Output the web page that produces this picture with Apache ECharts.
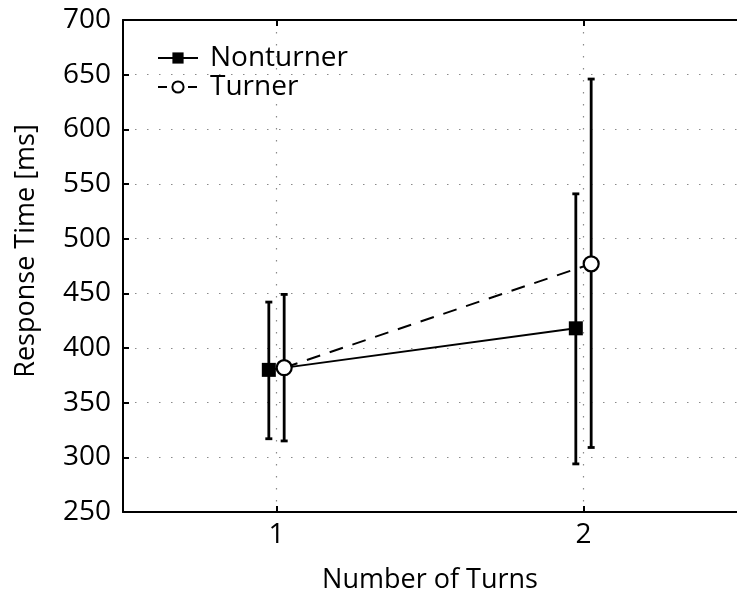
<!DOCTYPE html>
<html>
<head>
<meta charset="utf-8">
<script src="https://cdn.jsdelivr.net/npm/echarts@6/dist/echarts.min.js"></script>
<style>html,body{margin:0;padding:0;background:#fff}#c{width:737px;height:599px}</style>
</head>
<body>
<div id="c"></div>
<script>
var xTicks = [1, 2];
var seriesNames = ['Nonturner', 'Turner'];
var nonturnerX = [0.975, 1.975];
var nonturnerMean = [380, 418];
var nonturnerLow = [317, 294];
var nonturnerHigh = [442, 541];
var turnerX = [1.025, 2.025];
var turnerMean = [382, 477];
var turnerLow = [315, 309];
var turnerHigh = [449, 646];

var FONT = 'Open Sans';

function pts(xs, ys) { return xs.map(function (x, i) { return [x, ys[i]]; }); }
function errs(xs, lo, hi) { return xs.map(function (x, i) { return [x, lo[i], hi[i]]; }); }

function errRender(params, api) {
  var x = api.value(0);
  var p1 = api.coord([x, api.value(1)]);
  var p2 = api.coord([x, api.value(2)]);
  var cw = 3.5;
  var st = { stroke: '#000', lineWidth: 2.8 };
  return {
    type: 'group',
    children: [
      { type: 'line', shape: { x1: p1[0], y1: p1[1], x2: p2[0], y2: p2[1] }, style: st },
      { type: 'line', shape: { x1: p1[0] - cw, y1: p1[1], x2: p1[0] + cw, y2: p1[1] }, style: st },
      { type: 'line', shape: { x1: p2[0] - cw, y1: p2[1], x2: p2[0] + cw, y2: p2[1] }, style: st }
    ]
  };
}

var chart = echarts.init(document.getElementById('c'), null, { renderer: 'canvas' });
var dotted = { color: '#8a8a8a', width: 1.2, type: [1.5, 10.5] };
chart.setOption({
  animation: false,
  backgroundColor: '#fff',
  textStyle: { fontFamily: FONT, color: '#000' },
  grid: { left: 123, right: -9, top: 20, bottom: 84 },
  legend: {
    orient: 'vertical', left: 152, top: 39, itemGap: 1,
    itemWidth: 40, itemHeight: 14,
    textStyle: { fontFamily: FONT, fontSize: 28, color: '#000', padding: [0, 0, 0, 7] },
    data: [
      { name: seriesNames[0] },
      { name: seriesNames[1], lineStyle: { type: [9, 6] } }
    ]
  },
  xAxis: [{
    type: 'value', min: 0.5, max: 2.5, position: 'bottom',
    name: 'Number of Turns', nameLocation: 'middle', nameGap: 55,
    nameTextStyle: { fontFamily: FONT, fontSize: 27, color: '#000' },
    axisLine: { show: true, lineStyle: { color: '#000', width: 2 } },
    axisTick: { show: true, inside: true, length: 6, customValues: xTicks, lineStyle: { color: '#000', width: 2 } },
    axisLabel: { customValues: xTicks, fontFamily: FONT, fontSize: 28, color: '#000', margin: 9 },
    splitLine: { show: true, lineStyle: dotted }
  }, {
    type: 'value', min: 0.5, max: 2.5, position: 'top',
    axisLine: { show: true, lineStyle: { color: '#000', width: 2 } },
    axisTick: { show: true, inside: true, length: 6, customValues: xTicks, lineStyle: { color: '#000', width: 2 } },
    axisLabel: { show: false },
    splitLine: { show: false }
  }],
  yAxis: {
    type: 'value', min: 250, max: 700, interval: 50,
    name: 'Response Time [ms]', nameLocation: 'middle', nameGap: 83,
    nameTextStyle: { fontFamily: FONT, fontSize: 27, color: '#000', padding: [0, 0, 0, 30] },
    axisLine: { show: true, lineStyle: { color: '#000', width: 2 } },
    axisTick: { show: true, inside: true, length: 6, lineStyle: { color: '#000', width: 2 } },
    axisLabel: { fontFamily: FONT, fontSize: 28, color: '#000', margin: 12 },
    splitLine: { show: true, lineStyle: dotted }
  },
  series: [
    {
      type: 'custom', name: 'errN', renderItem: errRender, data: errs(nonturnerX, nonturnerLow, nonturnerHigh), z: 2, silent: true
    },
    {
      type: 'custom', name: 'errT', renderItem: errRender, data: errs(turnerX, turnerLow, turnerHigh), z: 2, silent: true
    },
    {
      name: seriesNames[0], type: 'line', data: pts(nonturnerX, nonturnerMean), z: 3,
      symbol: 'rect', symbolSize: 14, showAllSymbol: true,
      lineStyle: { color: '#000', width: 2 },
      itemStyle: { color: '#000', borderColor: '#000', borderWidth: 0 }
    },
    {
      name: seriesNames[1], type: 'line', data: pts(turnerX, turnerMean), z: 4,
      symbol: 'circle', symbolSize: 15, showAllSymbol: true,
      lineStyle: { color: '#000', width: 2, type: [14, 10] },
      itemStyle: { color: '#fff', borderColor: '#000', borderWidth: 2.2 }
    }
  ]
});
</script>
</body>
</html>
